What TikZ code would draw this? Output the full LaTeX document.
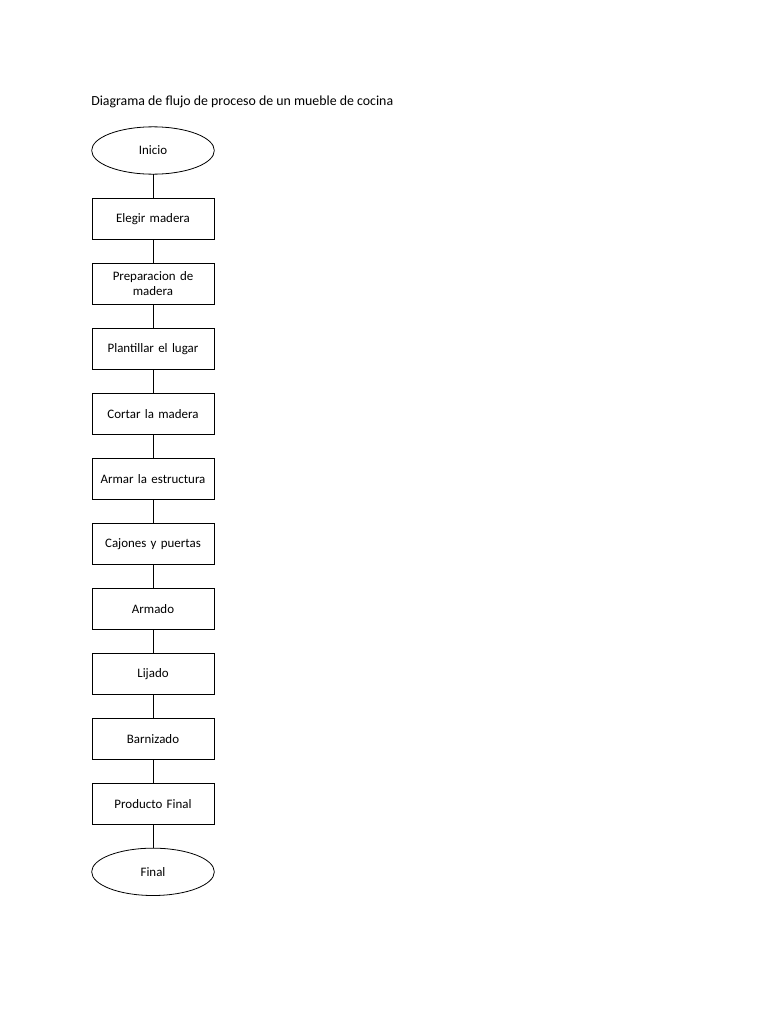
\documentclass[tikz,border=0pt]{standalone}
\usepackage{fontspec}
\setmainfont{Carlito}
\usetikzlibrary{positioning, shapes.geometric}

\begin{document}
\begin{tikzpicture}
              [x=0.75pt, y=-0.75pt, node distance=18pt,
               paso/.style={rectangle, draw, line width=.6, minimum width=91.5pt, minimum height=30.75pt, inner sep=1pt, outer sep=0pt, text width=88pt, align=center, font=\fontsize{9.7}{11.25}\selectfont},
               limite/.style={ellipse, draw, line width=.6, minimum width=92pt, minimum height=35.5pt, outer sep=0pt, font=\fontsize{9.7}{11.25}\selectfont}]
              \useasboundingbox (0,0) rectangle (768,1024);
              % nodes %
              \node[anchor=base west, inner sep=0pt, font=\fontsize{10.4}{12.5}\selectfont] (titulo) at (91,105.5) {Diagrama de flujo de proceso de un mueble de cocina};
              \node[limite] (inicio) at (153,150.5) {Inicio};
              \node[paso, below = of inicio] (elegir) {Elegir madera};
              \node[paso, below = of elegir] (prep) {Preparacion de\\ madera};
              \node[paso, below = of prep] (plantillar) {Plantillar el lugar};
              \node[paso, below = of plantillar] (cortar) {Cortar la madera};
              \node[paso, below = of cortar] (estructura) {Armar la estructura};
              \node[paso, below = of estructura] (cajones) {Cajones y puertas};
              \node[paso, below = of cajones] (armado) {Armado};
              \node[paso, below = of armado] (lijado) {Lijado};
              \node[paso, below = of lijado] (barniz) {Barnizado};
              \node[paso, below = of barniz] (producto) {Producto Final};
              \node[limite, below = of producto] (final) {Final};

              % edges %
              \foreach \a/\b in {inicio/elegir, elegir/prep, prep/plantillar, plantillar/cortar, cortar/estructura, estructura/cajones, cajones/armado, armado/lijado, lijado/barniz, barniz/producto, producto/final}
                \draw[line width= .6] (\a) -- (\b);
            \end{tikzpicture}
\end{document}
